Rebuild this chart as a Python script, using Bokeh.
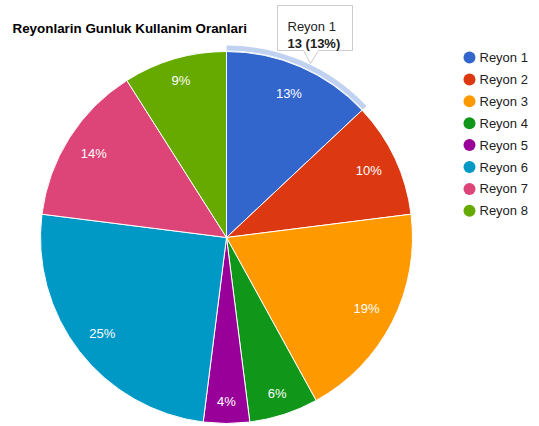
import math
from bokeh.plotting import figure
from bokeh.models import Range1d, ColumnDataSource
from bokeh.core.properties import value
from bokeh.embed import file_html
from bokeh.resources import INLINE

# ---- data ----
categories = ["Reyon 1", "Reyon 2", "Reyon 3", "Reyon 4", "Reyon 5", "Reyon 6", "Reyon 7", "Reyon 8"]
values = [13, 10, 19, 6, 4, 25, 14, 9]
colors = ["#3366cc", "#dc3912", "#ff9900", "#109618", "#990099", "#0099c6", "#dd4477", "#66aa00"]
title_text = "Reyonlarin Gunluk Kullanim Oranlari"
tooltip_index = 0

# ---- layout (pixel space, y measured upward) ----
W, H = 539, 426
FONT = "Liberation Sans"

def Y(y_img):
    return H - y_img

cx, cy = 226, Y(237)
R = 186

p = figure(width=W, height=H, output_backend="svg", toolbar_location=None,
           x_range=Range1d(0, W), y_range=Range1d(0, H),
           min_border=0, outline_line_color=None, background_fill_color="white",
           border_fill_color="white")
p.axis.visible = False
p.grid.visible = False

total = sum(values)
starts, ends, mids, pcts = [], [], [], []
acc = 0.0
for v in values:
    t0 = acc / total * 2 * math.pi
    acc += v
    t1 = acc / total * 2 * math.pi
    starts.append(math.pi / 2 - t1)
    ends.append(math.pi / 2 - t0)
    mids.append((t0 + t1) / 2)
    pcts.append(f"{round(v / total * 100)}%")

src = ColumnDataSource(dict(start=starts, end=ends, color=colors, name=categories))
p.wedge(x=cx, y=cy, radius=R, start_angle="start", end_angle="end", source=src,
        fill_color="color", line_color="white", line_width=1)

# hover highlight ring on the first slice
p.annular_wedge(x=cx, y=cy, inner_radius=R + 1, outer_radius=R + 6,
                start_angle=starts[tooltip_index], end_angle=ends[tooltip_index],
                fill_color=colors[tooltip_index], fill_alpha=0.3, line_color=None)

# percentage labels
lr = [0.845 * R if v >= 10 else 0.88 * R for v in values]
lx = [cx + r * math.sin(m) for r, m in zip(lr, mids)]
ly = [cy + r * math.cos(m) for r, m in zip(lr, mids)]
p.text(x=lx, y=ly, text=pcts, text_color="white", text_font=value(FONT),
       text_font_size="13px", text_align="center", text_baseline="middle")

# title
p.text(x=[12], y=[Y(28)], text=[title_text], text_font=value(FONT), text_font_size="13.4px",
       text_font_style="bold", text_color="#000000", text_baseline="alphabetic")

# legend
leg_y = [Y(57 + 21.9 * i) for i in range(len(categories))]
p.scatter(x=[469] * len(categories), y=leg_y, size=12, marker="circle",
          fill_color=colors, line_color=None)
p.text(x=[479] * len(categories), y=leg_y, text=categories, text_font=value(FONT),
       text_font_size="13px", text_color="#222222", text_baseline="middle")

# tooltip
bx0, bx1, by0, by1 = 277, 352, 5, 50
tail = [(303, by1), (310, 63), (318, by1)]
xs = [bx0, bx1, bx1, tail[2][0], tail[1][0], tail[0][0], bx0]
ys = [Y(by0), Y(by0), Y(by1), Y(tail[2][1]), Y(tail[1][1]), Y(tail[0][1]), Y(by1)]
p.patch(x=xs, y=ys, fill_color="white", line_color="#cccccc", line_width=1)
v0 = values[tooltip_index]
p.text(x=[287], y=[Y(26)], text=[categories[tooltip_index]], text_font=value(FONT),
       text_font_size="13px", text_color="#222222", text_baseline="alphabetic")
p.text(x=[287], y=[Y(43)], text=[f"{v0} ({round(v0 / total * 100)}%)"], text_font=value(FONT),
       text_font_size="13px", text_font_style="bold", text_color="#222222",
       text_baseline="alphabetic")

open("out.html", "w").write(file_html(p, INLINE))
